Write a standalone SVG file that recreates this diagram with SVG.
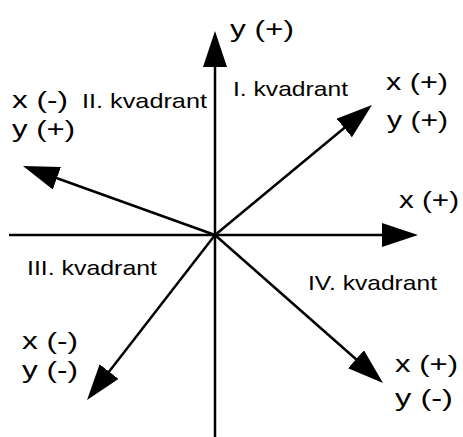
<svg xmlns="http://www.w3.org/2000/svg" width="463" height="437" viewBox="0 0 463 437">
<style>
  .ax { stroke: #000; stroke-width: 2.5; fill: none; marker-end: url(#arr); }
  .coord { font-family: "Liberation Sans", Arial, sans-serif; font-size: 24px; fill: #000; }
  .quad { font-family: "Liberation Sans", Arial, sans-serif; font-size: 21px; fill: #000; }
</style>
<defs>
  <marker id="arr" viewBox="0 0 36 24" refX="16" refY="12" markerWidth="36" markerHeight="24" markerUnits="userSpaceOnUse" orient="auto">
    <path d="M0,0 L36,12 L0,24 Z" fill="#000"/>
  </marker>
</defs>
<rect width="463" height="437" fill="#fff"/>
<g id="connectors">
  <line class="ax" x1="215" y1="437" x2="215" y2="51"/>
  <line class="ax" x1="9" y1="235" x2="398" y2="235"/>
  <line class="ax" x1="215" y1="235" x2="356.6" y2="117.8"/>
  <line class="ax" x1="215" y1="235" x2="41.8" y2="172.8"/>
  <line class="ax" x1="215" y1="235" x2="99.3" y2="384.2"/>
  <line class="ax" x1="215" y1="235" x2="368" y2="369.8"/>
</g>
<g id="label-y-axis"><text class="coord" x="230" y="37" textLength="64" lengthAdjust="spacingAndGlyphs">y (+)</text></g>
<g id="label-x-axis"><text class="coord" x="399" y="208" textLength="60" lengthAdjust="spacingAndGlyphs">x (+)</text></g>
<g id="label-q1-vector">
  <text class="coord" x="386" y="90" textLength="62" lengthAdjust="spacingAndGlyphs">x (+)</text>
  <text class="coord" x="387" y="128" textLength="61" lengthAdjust="spacingAndGlyphs">y (+)</text>
</g>
<g id="label-q2-vector">
  <text class="coord" x="12" y="108" textLength="56" lengthAdjust="spacingAndGlyphs">x (-)</text>
  <text class="coord" x="12" y="137" textLength="63" lengthAdjust="spacingAndGlyphs">y (+)</text>
</g>
<g id="label-q3-vector">
  <text class="coord" x="22" y="349" textLength="56" lengthAdjust="spacingAndGlyphs">x (-)</text>
  <text class="coord" x="22" y="378" textLength="56" lengthAdjust="spacingAndGlyphs">y (-)</text>
</g>
<g id="label-q4-vector">
  <text class="coord" x="395" y="372" textLength="63" lengthAdjust="spacingAndGlyphs">x (+)</text>
  <text class="coord" x="395" y="406" textLength="58" lengthAdjust="spacingAndGlyphs">y (-)</text>
</g>
<g id="quadrant-1"><text class="quad" x="233" y="96" textLength="115" lengthAdjust="spacingAndGlyphs">I. kvadrant</text></g>
<g id="quadrant-2"><text class="quad" x="82" y="108" textLength="125" lengthAdjust="spacingAndGlyphs">II. kvadrant</text></g>
<g id="quadrant-3"><text class="quad" x="27" y="275" textLength="130" lengthAdjust="spacingAndGlyphs">III. kvadrant</text></g>
<g id="quadrant-4"><text class="quad" x="308" y="290" textLength="129" lengthAdjust="spacingAndGlyphs">IV. kvadrant</text></g>
</svg>
